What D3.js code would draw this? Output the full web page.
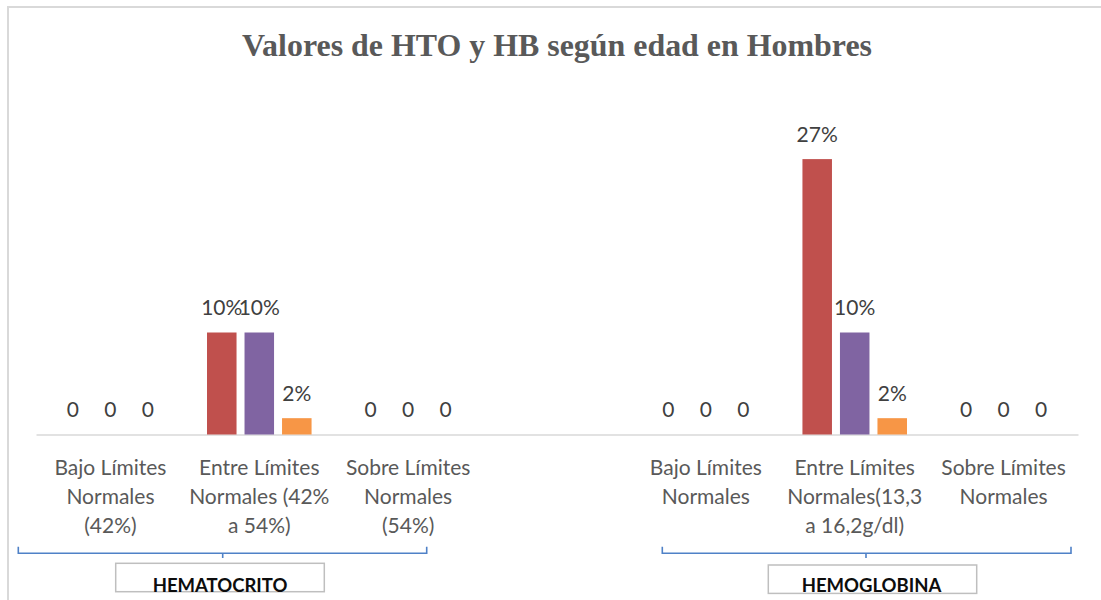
<!DOCTYPE html>
<html>
<head>
<meta charset="utf-8">
<script src="https://cdn.jsdelivr.net/npm/d3@7"></script>
<style>
  html, body { margin: 0; padding: 0; background: #fff; }
  svg { display: block; }
</style>
</head>
<body>
<script>
// categorias (la ranura vacia separa hematocrito y hemoglobina)
const categories = [
  "Bajo Límites\nNormales\n(42%)",
  "Entre Límites\nNormales (42%\na 54%)",
  "Sobre Límites\nNormales\n(54%)",
  "",
  "Bajo Límites\nNormales",
  "Entre Límites\nNormales(13,3\na 16,2g/dl)",
  "Sobre Límites\nNormales"
];
const seriesNames = ["Serie 1", "Serie 2", "Serie 3"];
const serie1 = [0, 0.10, 0, null, 0, 0.27, 0];
const serie2 = [0, 0.10, 0, null, 0, 0.10, 0];
const serie3 = [0, 0.016, 0, null, 0, 0.016, 0];
const seriesColors = ["#C0504D", "#8064A2", "#F79646"];
const groupNames = ["HEMATOCRITO", "HEMOGLOBINA"];
const title = "Valores de HTO y HB según edad en Hombres";

const width = 1101;
const height = 600;
const baseY = 434.5;
const topY = 128.5;

const allSeries = [serie1, serie2, serie3];

const svg = d3.select('body')
  .append('svg')
  .attr('width', width)
  .attr('height', height);

// marco del grafico
svg.append('rect')
  .attr('x', 8).attr('y', 7)
  .attr('width', 1300).attr('height', 800)
  .attr('fill', 'none')
  .attr('stroke', '#d9d9d9')
  .attr('stroke-width', 2);

svg.append('text')
  .attr('x', 557).attr('y', 56)
  .attr('text-anchor', 'middle')
  .attr('font-family', '"Liberation Serif", "Times New Roman", serif')
  .attr('font-weight', 'bold')
  .attr('font-size', 31)
  .attr('fill', '#595959')
  .attr('textLength', 630)
  .attr('lengthAdjust', 'spacingAndGlyphs')
  .text(title);

const x0 = d3.scaleBand()
  .domain(d3.range(categories.length))
  .range([36, 1078])
  .padding(0);

const groupW = x0.bandwidth() * 0.756;
const x1 = d3.scaleBand()
  .domain(seriesNames)
  .range([-groupW / 2, groupW / 2])
  .paddingInner(0.213)
  .paddingOuter(0.1065);

const y = d3.scaleLinear()
  .domain([0, 0.30])
  .range([baseY, topY]);

const fmt = d3.format('.0%');
const labelFont = 'Lato, "Open Sans", sans-serif';

// eje x
const xAxis = d3.axisBottom(x0).tickSize(0).tickFormat(i => categories[i]);
const axisG = svg.append('g')
  .attr('transform', `translate(0,${baseY})`)
  .call(xAxis);
axisG.select('.domain').attr('stroke', '#d9d9d9').attr('stroke-width', 1.5);
axisG.selectAll('.tick text')
  .attr('font-family', labelFont)
  .attr('font-size', 21)
  .attr('fill', '#595959')
  .each(function(i) {
    const t = d3.select(this);
    const lines = categories[i].split('\n');
    t.text(null).attr('y', 0).attr('dy', null);
    lines.forEach((ln, k) => {
      t.append('tspan')
        .attr('x', 0)
        .attr('y', 40 + k * 29)
        .text(ln);
    });
  });

// barras
const rows = [];
categories.forEach((c, i) => {
  allSeries.forEach((s, j) => {
    if (s[i] !== null) rows.push({ cat: i, name: seriesNames[j], color: seriesColors[j], value: s[i] });
  });
});

const cx = d => x0(d.cat) + x0.bandwidth() / 2 + x1(d.name);

svg.append('g').selectAll('rect')
  .data(rows.filter(d => d.value > 0))
  .enter()
  .append('rect')
  .attr('x', d => cx(d))
  .attr('y', d => y(d.value))
  .attr('width', x1.bandwidth())
  .attr('height', d => baseY - y(d.value))
  .attr('fill', d => d.color);

svg.append('g').selectAll('text')
  .data(rows)
  .enter()
  .append('text')
  .attr('x', d => cx(d) + x1.bandwidth() / 2)
  .attr('y', d => y(d.value) - 17.5)
  .attr('text-anchor', 'middle')
  .attr('font-family', labelFont)
  .attr('font-size', 21)
  .attr('fill', '#404040')
  .text(d => d.value === 0 ? '0' : fmt(d.value));

// llaves y cajas de grupo
const brackets = [
  { x1: 18.3, x2: 426.7, mid: 222.7, box: [115.7, 563.3, 208.6, 28.4] },
  { x1: 662.3, x2: 1071, mid: 866, box: [768.3, 565, 208.4, 28.4] }
];

brackets.forEach((b, k) => {
  svg.append('path')
    .attr('d', `M${b.x1},546.7 L${b.x1},553.3 L${b.x2},553.3 L${b.x2},546.7 M${b.mid},553.3 L${b.mid},558`)
    .attr('fill', 'none')
    .attr('stroke', '#4F81C7')
    .attr('stroke-width', 1.6);
  svg.append('rect')
    .attr('x', b.box[0]).attr('y', b.box[1])
    .attr('width', b.box[2]).attr('height', b.box[3])
    .attr('fill', '#fff')
    .attr('stroke', '#bfbfbf')
    .attr('stroke-width', 1.5);
  svg.append('text')
    .attr('x', b.box[0] + b.box[2] / 2 + (k === 0 ? 0 : -1))
    .attr('y', 592)
    .attr('text-anchor', 'middle')
    .attr('font-family', labelFont)
    .attr('font-weight', 'bold')
    .attr('font-size', 18.5)
    .attr('fill', '#0d0d0d')
    .text(groupNames[k]);
});
</script>
</body>
</html>
